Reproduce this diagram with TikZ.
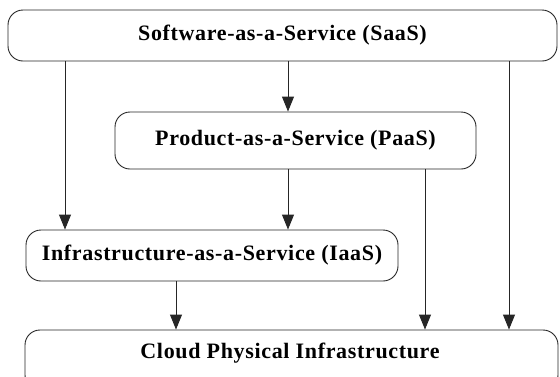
\documentclass[tikz,border=0pt]{standalone}
\usepackage{fontspec}
\setmainfont{Liberation Serif}
\newfontfamily\layerfont[LetterSpace=3]{Liberation Serif}
\usetikzlibrary{arrows.meta}
\begin{document}
\begin{tikzpicture}[x=1pt,y=-1pt,
  label font/.style={font=\layerfont\bfseries\fontsize{22}{25}\selectfont},
  layer/.style={draw=black!85, line width=0.9pt, rounded corners=15pt,
    inner sep=0pt, label font},
  arr/.style={draw=black!85, line width=0.9pt,
    -{Triangle[length=15pt,width=12pt]}}]
  \useasboundingbox (0,0) rectangle (560,376);
  % service layers
  \node[layer, minimum width=549pt, minimum height=51pt] (saas) at (282.5,35.5) {Software-as-a-Service (SaaS)};
  \node[layer, minimum width=361pt, minimum height=57pt] (paas) at (295.5,140.5) {Product-as-a-Service (PaaS)};
  \node[layer, minimum width=372pt, minimum height=51pt] (iaas) at (212,255.5) {Infrastructure-as-a-Service (IaaS)};
  \node[layer, minimum width=533pt, minimum height=60pt] (cloud) at (291.5,360) {};
  \node[label font] (cloudtxt) at (290,353) {Cloud Physical Infrastructure};
  % arrow columns
  \coordinate (xa) at (65,0);
  \coordinate (xb) at (288,0);
  \coordinate (xc) at (509,0);
  \coordinate (xd) at (425,0);
  \coordinate (xe) at (176,0);
  % dependencies
  \draw[arr] (saas.south -| xa) -- (iaas.north -| xa);
  \draw[arr] (saas.south -| xb) -- (paas.north -| xb);
  \draw[arr] (saas.south -| xc) -- (cloud.north -| xc);
  \draw[arr] (paas.south -| xb) -- (iaas.north -| xb);
  \draw[arr] (paas.south -| xd) -- (cloud.north -| xd);
  \draw[arr] (iaas.south -| xe) -- (cloud.north -| xe);
\end{tikzpicture}
\end{document}
